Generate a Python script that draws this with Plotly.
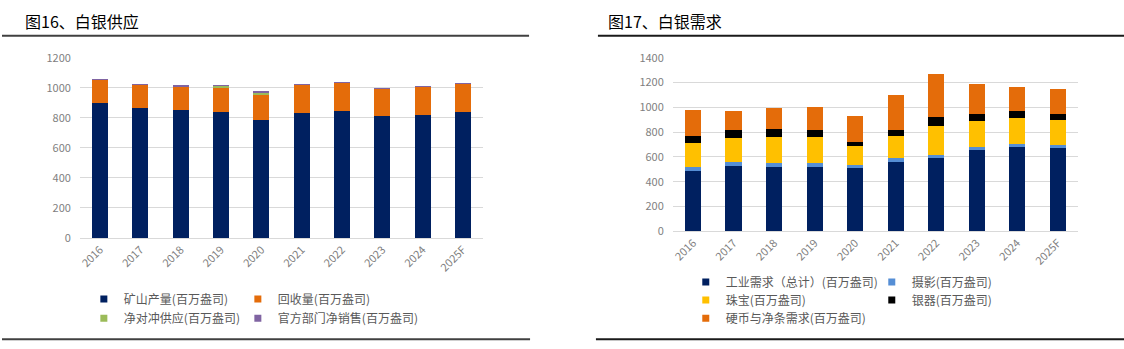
import plotly.graph_objects as go

W, H = 1124, 349
FONT = "Noto Sans CJK SC"

years = ["2016", "2017", "2018", "2019", "2020", "2021", "2022", "2023", "2024", "2025F"]

# 白银供应（百万盎司）
mine_output = [900, 866, 851, 837, 782, 832, 843, 813, 820, 836]
recycling = [156, 156, 162, 162, 177, 190, 192, 184, 191, 194]
net_hedging = [0, 0, 0, 20, 12, 0, 0, 0, 0, 0]
official_sales = [2, 2, 2, 1, 3, 2, 2, 2, 2, 2]

# 白银需求（百万盎司）
industrial = [486, 527, 522, 522, 507, 559, 592, 652, 681, 673]
photography = [36, 32, 31, 31, 31, 31, 26, 31, 26, 26]
jewelry = [187, 194, 205, 205, 150, 181, 234, 208, 207, 197]
silverware = [60, 63, 68, 58, 34, 45, 73, 55, 55, 50]
coins_bars = [210, 158, 169, 189, 205, 285, 343, 244, 195, 202]

# (name, values, colour, legend id, legend entry width)
supply_series = [
    ("矿山产量(百万盎司)", mine_output, "#002060", "legend", None),
    ("回收量(百万盎司)", recycling, "#E46C0A", "legend", 160),
    ("净对冲供应(百万盎司)", net_hedging, "#9BBB59", "legend2", None),
    ("官方部门净销售(百万盎司)", official_sales, "#8064A2", "legend2", 170),
]
demand_series = [
    ("工业需求（总计）(百万盎司)", industrial, "#002060", "legend3", None),
    ("摄影(百万盎司)", photography, "#558ED5", "legend3", 160),
    ("珠宝(百万盎司)", jewelry, "#FFC000", "legend4", None),
    ("银器(百万盎司)", silverware, "#000000", "legend4", 160),
    ("硬币与净条需求(百万盎司)", coins_bars, "#E46C0A", "legend5", 170),
]

fig = go.Figure()


def add_stack(series, xa, ya):
    for name, vals, color, leg, lw in series:
        fig.add_trace(go.Bar(
            x=years, y=vals, name=name, xaxis=xa, yaxis=ya,
            marker=dict(color=color, line=dict(width=0)),
            showlegend=False,
        ))
        # small square key for the legend
        key = dict(
            x=[None], y=[None], name=name, xaxis=xa, yaxis=ya,
            mode="markers", marker=dict(symbol="square", size=7, color=color),
            legend=leg, showlegend=True,
        )
        if lw:
            key["legendwidth"] = lw
        fig.add_trace(go.Scatter(**key))


add_stack(supply_series, "x", "y")
add_stack(demand_series, "x2", "y2")


def px_x(p):
    return p / W


def px_y(p):
    return 1 - p / H


tick_font = dict(family=FONT, size=11, color="#7F7F7F")
axis_common = dict(
    type="category", showgrid=False, showline=True, linecolor="#D9D9D9",
    linewidth=1, ticks="", tickangle=-45, tickfont=tick_font, fixedrange=True,
)
yaxis_common = dict(
    showgrid=True, gridcolor="#D9D9D9", gridwidth=1, zeroline=False,
    showline=False, ticks="", tickfont=tick_font, fixedrange=True,
    ticklabelstandoff=8,
)

leg_font = dict(family=FONT, size=12, color="#595959")


def legend_at(x_px, y_px, entry_w):
    return dict(
        orientation="h", x=px_x(x_px), y=px_y(y_px), xanchor="left",
        yanchor="middle", font=leg_font, entrywidth=entry_w,
        entrywidthmode="pixels", itemwidth=30, bgcolor="rgba(0,0,0,0)",
        borderwidth=0, tracegroupgap=0, traceorder="normal",
    )


fig.update_layout(
    width=W, height=H,
    margin=dict(l=0, r=0, t=0, b=0),
    paper_bgcolor="white", plot_bgcolor="white",
    barmode="stack", bargap=0.6,
    font=dict(family=FONT),
    xaxis=dict(domain=[px_x(78), px_x(482)], anchor="y", **axis_common),
    yaxis=dict(domain=[px_y(240), px_y(51)], anchor="x", range=[0, 1200],
               dtick=200, **yaxis_common),
    xaxis2=dict(domain=[px_x(672), px_x(1078)], anchor="y2", **axis_common),
    yaxis2=dict(domain=[px_y(233), px_y(51)], anchor="x2", range=[0, 1400],
                dtick=200, **yaxis_common),
    legend=legend_at(82, 304, 109),
    legend2=legend_at(82, 324, 109),
    legend3=legend_at(685, 286, 141),
    legend4=legend_at(685, 305, 141),
    legend5=legend_at(685, 324, 141),
    showlegend=True,
)

# Section headings
fig.add_annotation(text="图16、白银供应", x=px_x(21), y=px_y(13), xref="paper",
                   yref="paper", xanchor="left", yanchor="middle",
                   showarrow=False, font=dict(family=FONT, size=16, color="#000000"))
fig.add_annotation(text="图17、白银需求", x=px_x(605), y=px_y(13), xref="paper",
                   yref="paper", xanchor="left", yanchor="middle",
                   showarrow=False, font=dict(family=FONT, size=16, color="#000000"))

# Rules under headings and at the bottom of each panel
rules = [
    (0, 528, 28, "#404040"),
    (597, 1124, 28, "#1A1A1A"),
    (0, 529, 346, "#404040"),
    (595, 1124, 346, "#1A1A1A"),
]
for x0, x1, yy, col in rules:
    fig.add_shape(type="line", xref="paper", yref="paper",
                  x0=px_x(x0), x1=px_x(x1), y0=px_y(yy), y1=px_y(yy),
                  line=dict(color=col, width=2))

fig.write_html("out.html")
